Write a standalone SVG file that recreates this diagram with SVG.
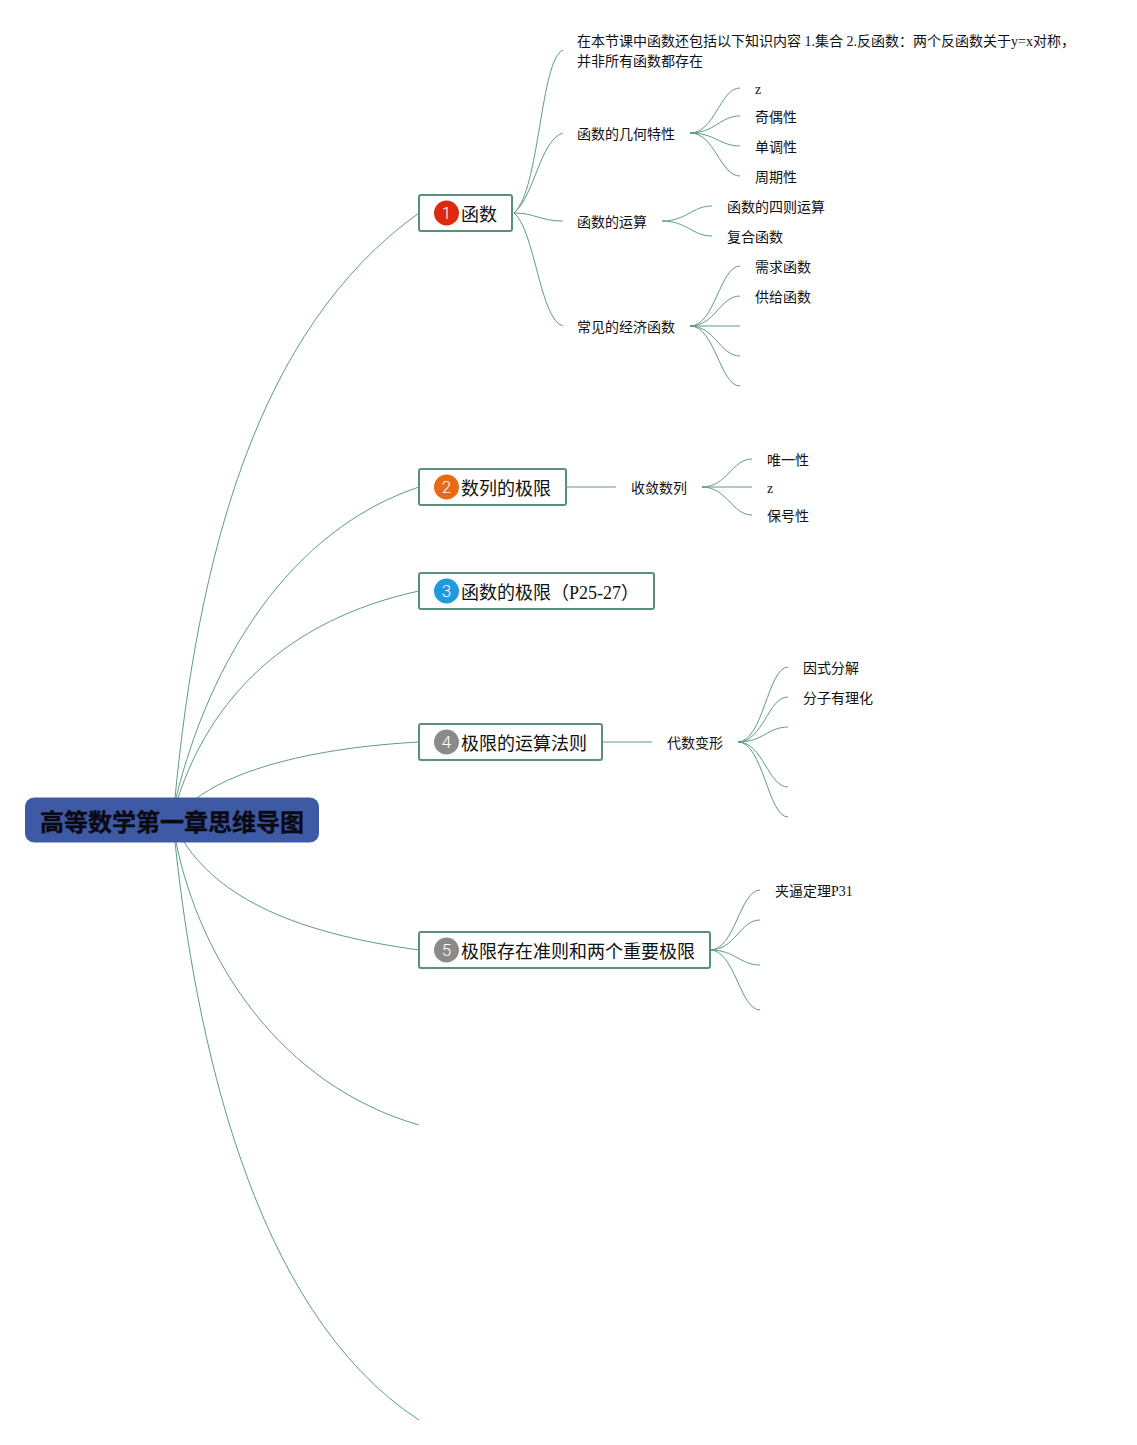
<svg xmlns="http://www.w3.org/2000/svg" width="1137" height="1445" viewBox="0 0 1137 1445">
<style>
text{font-family:"Liberation Serif","Noto Sans CJK SC",serif;fill:#111}
.t{font-size:14px}
.m{font-size:18px}
.c{fill:none;stroke:#5f9a88;stroke-width:1}
.b{fill:#fff;stroke:#5a8f80;stroke-width:2}
.n{font-family:"Roboto",sans-serif;font-weight:300;font-size:17px;fill:#fff;text-anchor:middle}
</style>
<rect width="1137" height="1445" fill="#fff"/>
<g id="connectors">
<path class="c" d="M175,798C198,560 255,330 419,213"/>
<path class="c" d="M176,798C210,660 290,530 419,487"/>
<path class="c" d="M178,798C210,700 285,620 419,591"/>
<path class="c" d="M197,798C235,770 310,748 419,742"/>
<path class="c" d="M184,842C225,905 310,935 419,950"/>
<path class="c" d="M176,842C200,960 280,1085 419,1125"/>
<path class="c" d="M175,842C195,1030 250,1310 419,1420"/>
<path class="c" d="M514,213C540,190 540,60 563,50"/>
<path class="c" d="M514,213C535,195 540,140 563,133"/>
<path class="c" d="M514,213C535,213 540,221 563,221"/>
<path class="c" d="M514,213C535,230 540,320 563,326"/>
<path class="c" d="M690,133C715,133 720,88 740,88"/>
<path class="c" d="M690,133C715,133 720,116 740,116"/>
<path class="c" d="M690,133C715,133 720,146 740,146"/>
<path class="c" d="M690,133C715,133 720,176 740,176"/>
<path class="c" d="M662,221C687,221 692,206 712,206"/>
<path class="c" d="M662,221C687,221 692,236 712,236"/>
<path class="c" d="M690,326C715,326 720,266 740,266"/>
<path class="c" d="M690,326C715,326 720,296 740,296"/>
<path class="c" d="M690,326H740"/>
<path class="c" d="M690,326C715,326 720,356 740,356"/>
<path class="c" d="M690,326C715,326 720,386 740,386"/>
<path class="c" d="M566,487H616"/>
<path class="c" d="M702,487C727,487 732,459 752,459"/>
<path class="c" d="M702,487H752"/>
<path class="c" d="M702,487C727,487 732,515 752,515"/>
<path class="c" d="M602,742H652"/>
<path class="c" d="M738,742C763,742 768,667 788,667"/>
<path class="c" d="M738,742C763,742 768,697 788,697"/>
<path class="c" d="M738,742C763,742 768,727 788,727"/>
<path class="c" d="M738,742C763,742 768,787 788,787"/>
<path class="c" d="M738,742C763,742 768,817 788,817"/>
<path class="c" d="M710,950C735,950 740,890 760,890"/>
<path class="c" d="M710,950C735,950 740,920 760,920"/>
<path class="c" d="M710,950C735,950 740,965 760,965"/>
<path class="c" d="M710,950C735,950 740,1010 760,1010"/>
</g>
<g id="root"><rect x="25" y="797.500" width="294" height="45" rx="9" fill="#3f5aa5"/><text x="40" y="831" font-size="24" font-weight="700" stroke="#0a0a14" stroke-width=".4" style="fill:#0a0a14">高等数学第一章思维导图</text></g>
<g id="n1"><rect class="b" x="419" y="195" width="93" height="36" rx="2"/><circle cx="446.500" cy="213" r="12.500" fill="#de2a0c"/><text class="n" x="446.500" y="219">1</text><text class="m" x="461" y="221">函数</text></g>
<g id="n2"><rect class="b" x="419" y="469" width="147" height="36" rx="2"/><circle cx="446.500" cy="487" r="12.500" fill="#e76a15"/><text class="n" x="446.500" y="493">2</text><text class="m" x="461" y="495">数列的极限</text></g>
<g id="n3"><rect class="b" x="419" y="573" width="235" height="36" rx="2"/><circle cx="446.500" cy="591" r="12.500" fill="#1f9bdd"/><text class="n" x="446.500" y="597">3</text><text class="m" x="461" y="599">函数的极限（P25-27）</text></g>
<g id="n4"><rect class="b" x="419" y="724" width="183" height="36" rx="2"/><circle cx="446.500" cy="742" r="12.500" fill="#8a8a8a"/><text class="n" x="446.500" y="748">4</text><text class="m" x="461" y="750">极限的运算法则</text></g>
<g id="n5"><rect class="b" x="419" y="932" width="291" height="36" rx="2"/><circle cx="446.500" cy="950" r="12.500" fill="#8a8a8a"/><text class="n" x="446.500" y="956">5</text><text class="m" x="461" y="958">极限存在准则和两个重要极限</text></g>
<g id="n1a"><text class="t" x="577" y="46">在本节课中函数还包括以下知识内容 1.集合 2.反函数：两个反函数关于y=x对称，</text><text class="t" x="577" y="66">并非所有函数都存在</text></g>
<g id="n1b"><text class="t" x="577" y="139">函数的几何特性</text></g>
<g id="n1b1"><text class="t" x="755" y="94">z</text></g>
<g id="n1b2"><text class="t" x="755" y="122">奇偶性</text></g>
<g id="n1b3"><text class="t" x="755" y="152">单调性</text></g>
<g id="n1b4"><text class="t" x="755" y="182">周期性</text></g>
<g id="n1c"><text class="t" x="577" y="227">函数的运算</text></g>
<g id="n1c1"><text class="t" x="727" y="212">函数的四则运算</text></g>
<g id="n1c2"><text class="t" x="727" y="242">复合函数</text></g>
<g id="n1d"><text class="t" x="577" y="332">常见的经济函数</text></g>
<g id="n1d1"><text class="t" x="755" y="272">需求函数</text></g>
<g id="n1d2"><text class="t" x="755" y="302">供给函数</text></g>
<g id="n2a"><text class="t" x="631" y="493">收敛数列</text></g>
<g id="n2a1"><text class="t" x="767" y="465">唯一性</text></g>
<g id="n2a2"><text class="t" x="767" y="493">z</text></g>
<g id="n2a3"><text class="t" x="767" y="521">保号性</text></g>
<g id="n4a"><text class="t" x="667" y="748">代数变形</text></g>
<g id="n4a1"><text class="t" x="803" y="673">因式分解</text></g>
<g id="n4a2"><text class="t" x="803" y="703">分子有理化</text></g>
<g id="n5a"><text class="t" x="775" y="896">夹逼定理P31</text></g>
</svg>
